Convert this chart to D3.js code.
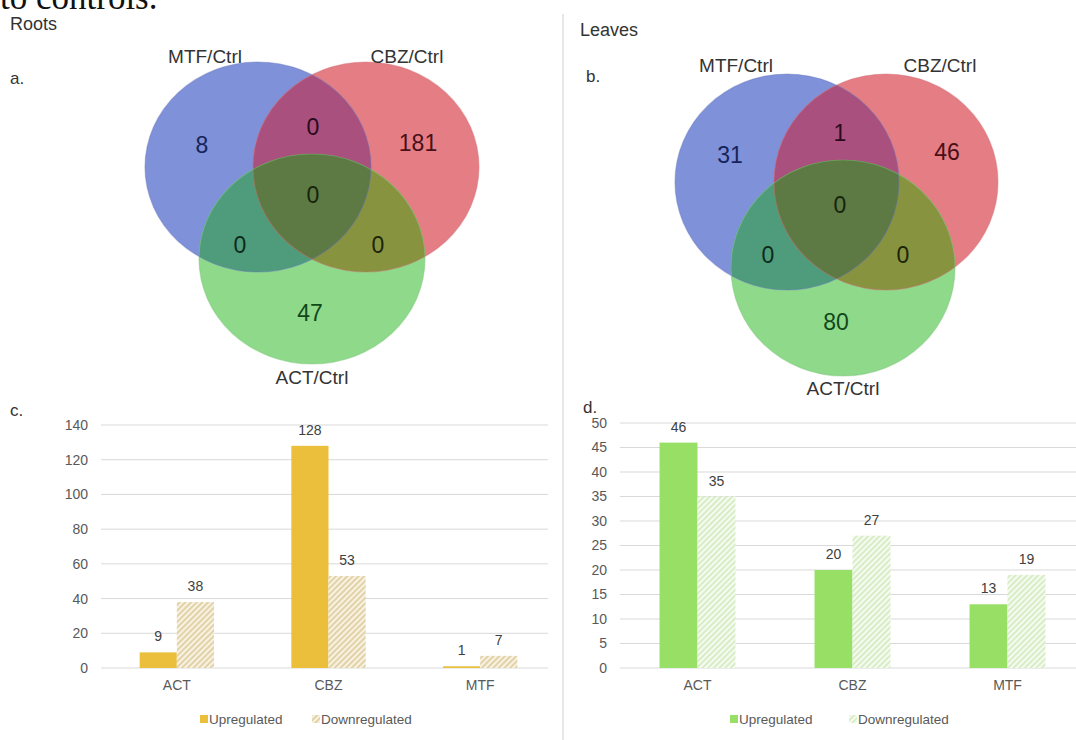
<!DOCTYPE html>
<html>
<head>
<meta charset="utf-8">
<script src="https://cdn.jsdelivr.net/npm/d3@7"></script>
<style>
  html, body { margin: 0; padding: 0; background: #fff; }
  svg { display: block; font-family: "Liberation Sans", Arial, Helvetica, sans-serif; }
</style>
</head>
<body>
<svg id="fig" width="1076" height="740"></svg>
<script>
// ---- data ----
const vennSetNames = ["MTF/Ctrl", "CBZ/Ctrl", "ACT/Ctrl"];
// region order: MTF only, CBZ only, ACT only, MTF∩CBZ, MTF∩ACT, CBZ∩ACT, all three
const vennRegions = ["MTF", "CBZ", "ACT", "MTF_CBZ", "MTF_ACT", "CBZ_ACT", "ALL"];
const rootsVenn = [8, 181, 47, 0, 0, 0, 0];
const leavesVenn = [31, 46, 80, 1, 0, 0, 0];

const categories = ["ACT", "CBZ", "MTF"];
const seriesNames = ["Upregulated", "Downregulated"];
const rootsUp = [9, 128, 1];
const rootsDown = [38, 53, 7];
const leavesUp = [46, 20, 13];
const leavesDown = [35, 27, 19];
const rootsTicks = [0, 20, 40, 60, 80, 100, 120, 140];
const leavesTicks = [0, 5, 10, 15, 20, 25, 30, 35, 40, 45, 50];

// ---- setup ----
const svg = d3.select("#fig");
svg.append("rect").attr("width", 1076).attr("height", 740).attr("fill", "#fff");
const defs = svg.append("defs");

function hatch(id, base, line) {
  const p = defs.append("pattern").attr("id", id)
    .attr("patternUnits", "userSpaceOnUse").attr("width", 4).attr("height", 4)
    .attr("patternTransform", "rotate(45)");
  p.append("rect").attr("width", 4).attr("height", 4).attr("fill", base);
  p.append("line").attr("x1", 1).attr("y1", 0).attr("x2", 1).attr("y2", 4)
    .attr("stroke", line).attr("stroke-width", 1.4);
}
hatch("hatchRoots", "#f8f2e2", "#d8c58f");
hatch("hatchLeaves", "#f6fbf1", "#cbe8b4");

// caption fragment cut by the top edge
svg.append("text").attr("x", 0).attr("y", 9)
  .attr("font-family", "'Liberation Serif', 'Times New Roman', serif")
  .attr("font-size", 35).attr("fill", "#111").text("to controls.");

// divider between the two columns
svg.append("line").attr("x1", 563).attr("x2", 563).attr("y1", 14).attr("y2", 740)
  .attr("stroke", "#cfcfcf").attr("stroke-width", 1);

// panel headings
const heads = [
  { t: "Roots", x: 10, y: 30, s: 18 }, { t: "a.", x: 10, y: 84, s: 17 }, { t: "c.", x: 10, y: 416, s: 17 },
  { t: "Leaves", x: 580, y: 36, s: 18 }, { t: "b.", x: 586, y: 82, s: 17 }, { t: "d.", x: 583, y: 413, s: 17 }
];
svg.selectAll("text.head").data(heads).join("text").attr("class", "head")
  .attr("x", d => d.x).attr("y", d => d.y).attr("font-size", d => d.s).attr("fill", "#333")
  .text(d => d.t);

// ---- Venn diagrams ----
const vennColors = {
  MTF: "#7f91d8", CBZ: "#e47e84", ACT: "#8fd98b",
  MTF_CBZ: "#a9507e", MTF_ACT: "#4f9c7c", CBZ_ACT: "#889340", ALL: "#5d7944"
};
const vennText = {
  MTF: "#17245a", CBZ: "#4a0f18", ACT: "#11481a",
  MTF_CBZ: "#2a0a1c", MTF_ACT: "#0d2a1a", CBZ_ACT: "#1c2408", ALL: "#16240c"
};
const vennStroke = { MTF: "#6574bd", CBZ: "#cf6a72", ACT: "#74c270" };

function drawVenn(id, geom, counts, regionPos, setLabelPos) {
  const g = svg.append("g");
  const keys = ["MTF", "CBZ", "ACT"];
  keys.forEach(k => {
    defs.append("clipPath").attr("id", id + k).append("ellipse")
      .attr("cx", geom[k].cx).attr("cy", geom[k].cy).attr("rx", geom.rx).attr("ry", geom.ry);
  });
  const ell = (sel, k, fill) => sel.append("ellipse")
    .attr("cx", geom[k].cx).attr("cy", geom[k].cy).attr("rx", geom.rx).attr("ry", geom.ry)
    .attr("fill", fill);
  // single sets
  keys.forEach(k => ell(g, k, vennColors[k]));
  // pairwise overlaps
  ell(g.append("g").attr("clip-path", `url(#${id}CBZ)`), "MTF", vennColors.MTF_CBZ);
  ell(g.append("g").attr("clip-path", `url(#${id}ACT)`), "MTF", vennColors.MTF_ACT);
  ell(g.append("g").attr("clip-path", `url(#${id}ACT)`), "CBZ", vennColors.CBZ_ACT);
  // triple overlap
  ell(g.append("g").attr("clip-path", `url(#${id}CBZ)`).append("g").attr("clip-path", `url(#${id}ACT)`),
      "MTF", vennColors.ALL);
  // soft outlines
  keys.forEach(k => ell(g, k, "none").attr("stroke", vennStroke[k]).attr("stroke-opacity", 0.4)
    .attr("stroke-width", 1.2));

  g.selectAll("text.count").data(vennRegions).join("text").attr("class", "count")
    .attr("x", (d) => regionPos[d][0]).attr("y", (d) => regionPos[d][1])
    .attr("text-anchor", "middle").attr("dominant-baseline", "central")
    .attr("font-size", 23).attr("fill", d => vennText[d])
    .text((d, i) => counts[i]);

  g.selectAll("text.set").data(vennSetNames).join("text").attr("class", "set")
    .attr("x", (d, i) => setLabelPos[i][0]).attr("y", (d, i) => setLabelPos[i][1])
    .attr("text-anchor", "middle").attr("dominant-baseline", "central")
    .attr("font-size", 19).attr("fill", "#333").text(d => d);
}

drawVenn("rv",
  { rx: 113, ry: 105, MTF: { cx: 258, cy: 167 }, CBZ: { cx: 366, cy: 167 }, ACT: { cx: 312, cy: 259 } },
  rootsVenn,
  { MTF: [202, 145], CBZ: [418, 143], ACT: [310, 313], MTF_CBZ: [313, 127],
    MTF_ACT: [240, 245], CBZ_ACT: [378, 245], ALL: [313, 195] },
  [[205, 56], [407, 56], [312, 377]]);

drawVenn("lv",
  { rx: 112, ry: 108, MTF: { cx: 787, cy: 182 }, CBZ: { cx: 886, cy: 182 }, ACT: { cx: 843, cy: 268 } },
  leavesVenn,
  { MTF: [730, 155], CBZ: [947, 152], ACT: [836, 322], MTF_CBZ: [840, 133],
    MTF_ACT: [768, 255], CBZ_ACT: [903, 255], ALL: [840, 205] },
  [[736, 65], [940, 65], [843, 388]]);

// ---- bar charts ----
function drawBars(opt) {
  const g = svg.append("g");
  const x0 = d3.scaleBand().domain(categories).range(opt.xr).paddingInner(0.51).paddingOuter(0.255);
  const x1 = d3.scaleBand().domain(seriesNames).range([0, x0.bandwidth()]);
  const y = d3.scaleLinear().domain([0, opt.max]).range([668, opt.top]);

  // gridlines
  g.selectAll("line.grid").data(opt.ticks).join("line").attr("class", "grid")
    .attr("x1", opt.xr[0]).attr("x2", opt.gridEnd)
    .attr("y1", d => y(d)).attr("y2", d => y(d))
    .attr("stroke", "#d9d9d9").attr("stroke-width", 1);

  // y axis labels
  const ya = g.append("g").attr("transform", `translate(${opt.xr[0]},0)`)
    .call(d3.axisLeft(y).tickValues(opt.ticks).tickSize(0).tickPadding(13));
  ya.select(".domain").remove();
  ya.selectAll("text").attr("font-size", 14).attr("fill", "#595959")
    .attr("font-family", "'Liberation Sans', Arial, sans-serif");

  // x axis labels
  const xa = g.append("g").attr("transform", "translate(0,668)")
    .call(d3.axisBottom(x0).tickSize(0).tickPadding(12));
  xa.select(".domain").remove();
  xa.selectAll("text").attr("font-size", 14).attr("fill", "#595959")
    .attr("font-family", "'Liberation Sans', Arial, sans-serif");

  const rows = categories.map((c, i) => [
    { c, s: seriesNames[0], v: opt.up[i] },
    { c, s: seriesNames[1], v: opt.down[i] }
  ]).flat();
  const fill = d => d.s === seriesNames[0] ? opt.upColor : `url(#${opt.hatch})`;

  g.selectAll("rect.bar").data(rows).join("rect").attr("class", "bar")
    .attr("x", d => x0(d.c) + x1(d.s)).attr("width", x1.bandwidth())
    .attr("y", d => y(d.v)).attr("height", d => 668 - y(d.v))
    .attr("fill", fill);

  g.selectAll("text.val").data(rows).join("text").attr("class", "val")
    .attr("x", d => x0(d.c) + x1(d.s) + x1.bandwidth() / 2)
    .attr("y", d => y(d.v) - 11)
    .attr("text-anchor", "middle").attr("font-size", 14).attr("fill", "#404040")
    .text(d => d.v);

  // legend
  const lg = g.append("g").attr("transform", `translate(${opt.legendX},719)`);
  const items = lg.selectAll("g").data(seriesNames).join("g")
    .attr("transform", (d, i) => `translate(${i * opt.legendStep},0)`);
  items.append("rect").attr("x", 0).attr("y", -4).attr("width", 8).attr("height", 8)
    .attr("fill", (d, i) => i === 0 ? opt.upColor : `url(#${opt.hatch})`);
  items.append("text").attr("x", 9).attr("y", 0).attr("dominant-baseline", "central")
    .attr("font-size", 13.5).attr("fill", "#595959").text(d => d);
}

drawBars({ xr: [101, 556], gridEnd: 548, max: 140, top: 425, ticks: rootsTicks,
  up: rootsUp, down: rootsDown, upColor: "#ebbf3c", hatch: "hatchRoots",
  legendX: 200, legendStep: 112 });

drawBars({ xr: [620, 1085], gridEnd: 1076, max: 50, top: 423, ticks: leavesTicks,
  up: leavesUp, down: leavesDown, upColor: "#97df65", hatch: "hatchLeaves",
  legendX: 730, legendStep: 119 });
</script>
</body>
</html>
